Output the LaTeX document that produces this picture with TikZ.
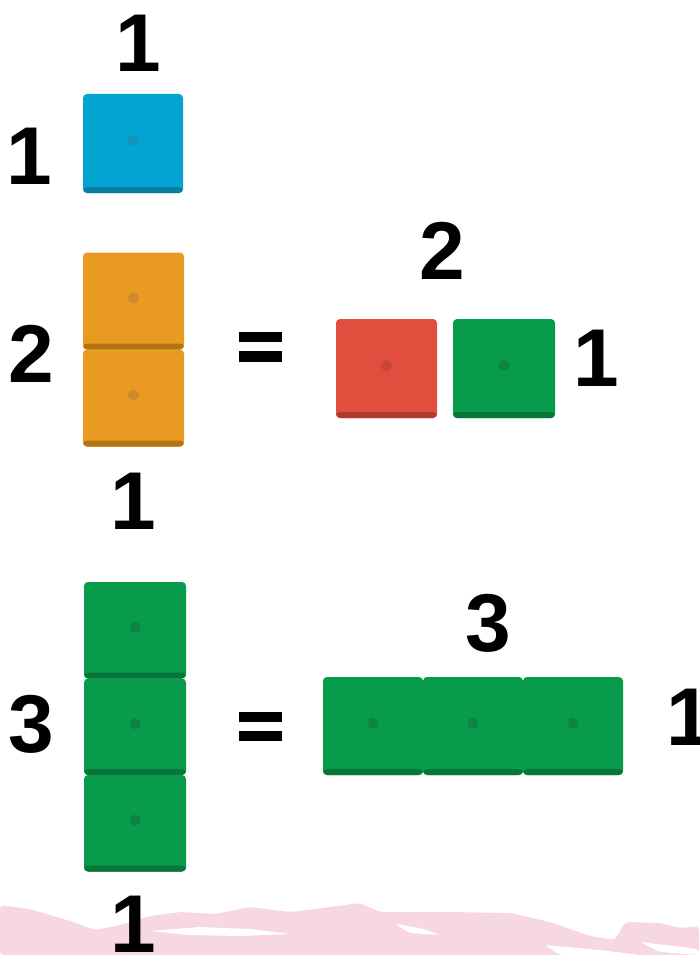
\documentclass[tikz,border=0pt]{standalone}
\usepackage{fontspec}
\newfontfamily\numfont{Liberation Sans}[BoldFont={Liberation Sans Bold}]
\definecolor{bluemain}{HTML}{03A4D2}
\definecolor{bluedark}{HTML}{0B7DA3}
\definecolor{bluedot}{HTML}{1790BD}
\definecolor{orgmain}{HTML}{E89B20}
\definecolor{orgdark}{HTML}{B3730F}
\definecolor{orgdot}{HTML}{CE8A2E}
\definecolor{redmain}{HTML}{E04F3D}
\definecolor{reddark}{HTML}{B03A2B}
\definecolor{reddot}{HTML}{C84538}
\definecolor{grnmain}{HTML}{079B4B}
\definecolor{grndark}{HTML}{06763A}
\definecolor{grndot}{HTML}{0B8541}
\definecolor{pinkbg}{HTML}{F8D8E0}
\begin{document}
\begin{tikzpicture}[x=1pt,y=-1pt,
  tile/.style n args={3}{fill=#1, draw=none, rounded corners=4pt, inner sep=0pt,
    minimum width=101pt, minimum height=97pt,
    path picture={
      \fill[#2] ([yshift=6pt]path picture bounding box.south west) rectangle (path picture bounding box.south east);
      \fill[#3] ([yshift=3pt]path picture bounding box.center) circle (5.5pt);
    }},
  num/.style={inner sep=0pt, font=\fontsize{82}{82}\selectfont\numfont\bfseries, text=black},
  eqbar/.style={fill=black}
]
\useasboundingbox (0,0) rectangle (699,955);
\clip (0,0) rectangle (699,955);
% pink brushed background band
\fill[pinkbg, rounded corners=4pt] (0,905) -- (30,909) -- (70,921) -- (95,930) -- (120,925) -- (150,916) -- (180,912)
  -- (215,914) -- (250,907) -- (290,912) -- (330,907) -- (360,903) -- (380,912) -- (450,912) -- (510,913)
  -- (550,922) -- (590,936) -- (615,940) -- (625,922) -- (660,923) -- (680,928) -- (699,926)
  -- (699,955) -- (0,955) -- cycle;
\fill[white, rounded corners=3pt] (150,931) -- (200,927) -- (250,929) -- (290,934) -- (240,936) -- (190,935) -- cycle;
\fill[white, rounded corners=3pt] (395,924) -- (420,928) -- (440,935) -- (410,933) -- cycle;
\fill[white, rounded corners=3pt] (545,945) -- (600,950) -- (640,955) -- (560,955) -- cycle;
\fill[white, rounded corners=3pt] (640,942) -- (690,948) -- (699,950) -- (699,955) -- (660,952) -- cycle;

% row 1
\node[tile={bluemain}{bluedark}{bluedot}, minimum width=100pt, minimum height=99pt] (blue) at (133,143.5) {};
\node[num] (t1) at (138,43) {1};
\node[num] (l1) at (29,156) {1};

% row 2
\node[tile={orgmain}{orgdark}{orgdot}] (o1) at (133.5,301) {};
\node[tile={orgmain}{orgdark}{orgdot}] (o2) at (133.5,398) {};
\node[num] (l2) at (31,354) {2};
\node[num] (b1) at (133,501) {1};
\fill[eqbar] (239,332) rectangle (282,342);
\fill[eqbar] (239,351) rectangle (282,362);
\node[tile={redmain}{reddark}{reddot}, minimum height=99pt] (red) at (386.5,368.5) {};
\node[tile={grnmain}{grndark}{grndot}, minimum width=102pt, minimum height=99pt] (g1) at (504,368.5) {};
\node[num] (t2) at (442,251) {2};
\node[num] (r1) at (596,358) {1};

% row 3
\node[tile={grnmain}{grndark}{grndot}, minimum width=102pt, minimum height=96.5pt] (c1) at (135,630.25) {};
\node[tile={grnmain}{grndark}{grndot}, minimum width=102pt, minimum height=96.5pt] (c2) at (135,726.75) {};
\node[tile={grnmain}{grndark}{grndot}, minimum width=102pt, minimum height=96.5pt] (c3) at (135,823.25) {};
\node[num] (l3) at (31,724) {3};
\node[num] (b3) at (133,924) {1};
\fill[eqbar] (239,712) rectangle (282,722);
\fill[eqbar] (239,731) rectangle (282,741);
\node[tile={grnmain}{grndark}{grndot}, minimum width=100pt, minimum height=98pt] (h1) at (373,726) {};
\node[tile={grnmain}{grndark}{grndot}, minimum width=100pt, minimum height=98pt] (h2) at (473,726) {};
\node[tile={grnmain}{grndark}{grndot}, minimum width=100pt, minimum height=98pt] (h3) at (573,726) {};
\node[num] (t3) at (488,623) {3};
\node[num] (r3) at (689,717) {1};
\end{tikzpicture}
\end{document}
